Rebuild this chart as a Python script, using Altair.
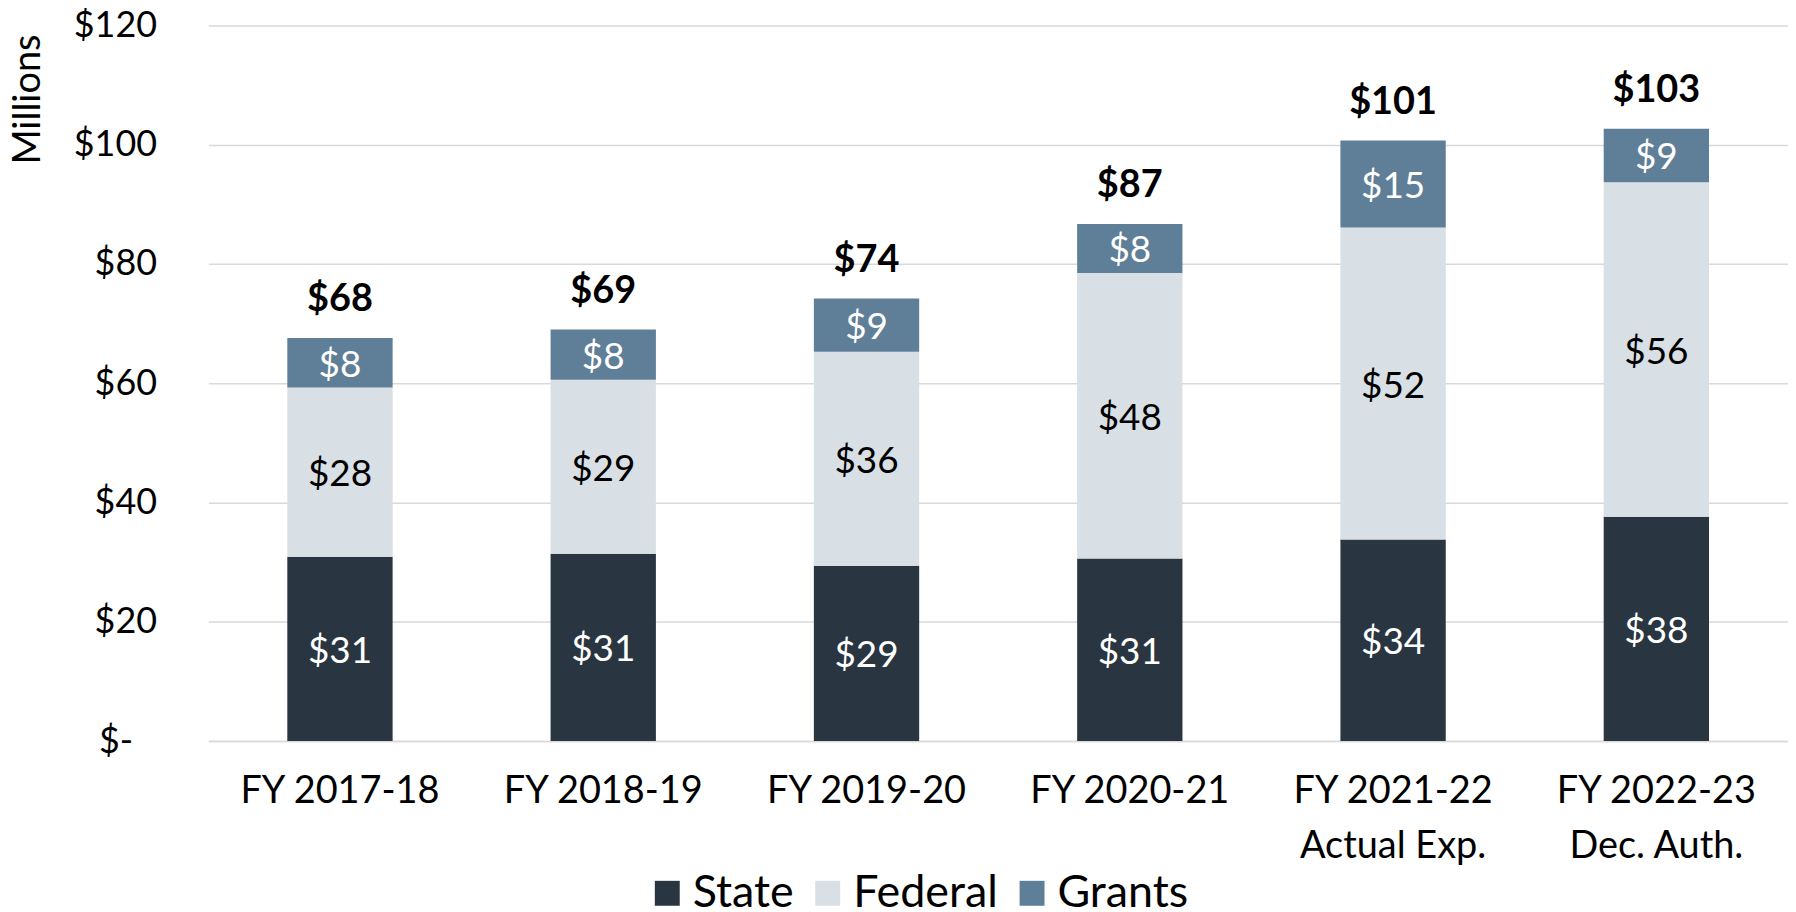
import altair as alt
import pandas as pd

years = ["FY 2017-18", "FY 2018-19", "FY 2019-20", "FY 2020-21",
         "FY 2021-22|Actual Exp.", "FY 2022-23|Dec. Auth."]
state = [30.9, 31.4, 29.4, 30.6, 33.8, 37.6]
federal = [28.4, 29.2, 35.9, 47.9, 52.3, 56.1]
grants = [8.3, 8.4, 8.9, 8.2, 14.6, 9.0]
series = ["State", "Federal", "Grants"]
colors = ["#293541", "#d8dfe5", "#5f7e97"]
y_ticks = [0, 20, 40, 60, 80, 100, 120]

rows = []
for i, yr in enumerate(years):
    for j, (s, vals) in enumerate(zip(series, [state, federal, grants])):
        rows.append({"year": yr, "series": s, "value": vals[i], "order": j})
df = pd.DataFrame(rows)

FONT = "Lato"
y_scale = alt.Scale(domain=[0, 120], nice=False, zero=True)
x_scale = alt.Scale(paddingInner=0.6, paddingOuter=0.3)

x_axis = alt.Axis(title=None, labelExpr="split(datum.label, '|')",
                  labelFont=FONT, labelFontSize=38, labelLineHeight=55,
                  labelPadding=32, ticks=False, labelAngle=0, labelLimit=600,
                  labelColor="black", domainColor="#d9d9d9",
                  domainWidth=1.5)
y_axis = alt.Axis(values=y_ticks, title="Millions",
                  labelExpr="datum.value == 0 ? '$-' : '$' + datum.value",
                  labelFont=FONT, labelFontSize=36, labelColor="black",
                  labelPadding={"condition": {"test": "datum.value === 0", "value": 76}, "value": 52},
                  ticks=False, domain=False, labelLimit=400,
                  grid=True, gridColor="#d9d9d9", gridWidth=1.5,
                  titleFont=FONT, titleFontSize=38, titleFontWeight="normal",
                  titleColor="black", titleAngle=270, titleAlign="left",
                  titleBaseline="bottom", titleX=-161, titleY=139)

base = alt.Chart(df)

bars = base.mark_bar().encode(
    x=alt.X("year:N", sort=years, scale=x_scale, axis=x_axis),
    y=alt.Y("value:Q", stack="zero", scale=y_scale, axis=y_axis),
    color=alt.Color("series:N", scale=alt.Scale(domain=series, range=colors),
                    legend=alt.Legend(orient="none", legendX=438, legendY=848,
                                      direction="horizontal", title=None,
                                      symbolType="square", symbolSize=625,
                                      symbolStrokeWidth=0, labelFont=FONT,
                                      labelFontSize=45, labelColor="black",
                                      labelOffset=3, columnPadding=11)),
    order=alt.Order("order:Q", sort="ascending"),
)

seg_text = base.transform_window(
    cum="sum(value)", groupby=["year"], sort=[alt.SortField("order")],
    frame=[None, 0]
).transform_calculate(
    mid="datum.cum - datum.value / 2"
).mark_text(font=FONT, fontSize=37, baseline="middle", align="center", dy=3).encode(
    x=alt.X("year:N", sort=years, scale=x_scale, axis=x_axis),
    y=alt.Y("mid:Q", scale=y_scale, axis=y_axis),
    text=alt.Text("value:Q", format="$.0f"),
    color=alt.condition(alt.datum.series == "Federal", alt.value("black"), alt.value("white")),
)

total_text = base.transform_aggregate(
    total="sum(value)", groupby=["year"]
).mark_text(font=FONT, fontSize=38, fontWeight="bold", baseline="alphabetic",
            align="center", dy=-27, color="black").encode(
    x=alt.X("year:N", sort=years, scale=x_scale, axis=x_axis),
    y=alt.Y("total:Q", scale=y_scale, axis=y_axis),
    text=alt.Text("total:Q", format="$.0f"),
)

chart = alt.layer(bars, seg_text, total_text).properties(
    width=1585, height=718,
    padding={"left": 201, "top": 16, "right": 0, "bottom": 170},
    autosize=alt.AutoSizeParams(type="none"),
    background="white",
).configure_view(stroke=None)

chart.save("out.html", embed_options={"renderer": "svg", "actions": False})
